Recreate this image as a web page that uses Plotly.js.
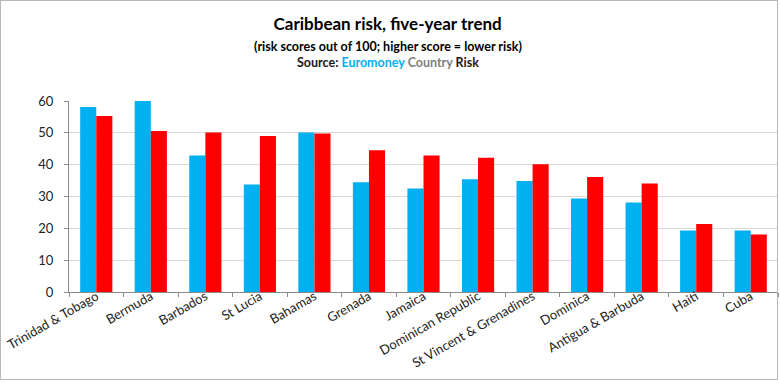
<!DOCTYPE html>
<html>
<head>
<meta charset="utf-8">
<script src="https://cdn.plot.ly/plotly-3.0.1.min.js"></script>
<style>
  html, body { margin: 0; padding: 0; background: #fff; }
  #wrap { position: relative; width: 780px; height: 383px; }
  #chart { width: 780px; height: 383px; }
  #frame { position: absolute; left: 0; top: 0; width: 776px; height: 378px; border: 1.5px solid #b8b8b8; pointer-events: none; }
</style>
</head>
<body>
<div id="wrap"><div id="chart"></div><div id="frame"></div></div>
<script>
const countries = ["Trinidad & Tobago", "Bermuda", "Barbados", "St Lucia", "Bahamas", "Grenada", "Jamaica",
  "Dominican Republic", "St Vincent & Grenadines", "Dominica", "Antigua & Barbuda", "Haiti", "Cuba"];
const scoresEarlier = [58.1, 60.0, 42.9, 33.8, 50.1, 34.5, 32.5, 35.4, 34.9, 29.4, 28.1, 19.3, 19.3];
const scoresLatest  = [55.3, 50.6, 50.1, 49.0, 49.8, 44.5, 42.9, 42.2, 40.1, 36.1, 34.1, 21.4, 18.1];
const yTicks = [0, 10, 20, 30, 40, 50, 60];

const FONT = "Lato, 'Liberation Sans', sans-serif";

const traces = [
  { type: "bar", x: countries, y: scoresEarlier, name: "Earlier", marker: { color: "#00b0f0" }, hoverinfo: "x+y" },
  { type: "bar", x: countries, y: scoresLatest, name: "Latest", marker: { color: "#ff0000" }, hoverinfo: "x+y" }
];

const layout = {
  width: 780, height: 383,
  margin: { l: 69, r: 2, t: 101, b: 91, pad: 0 },
  paper_bgcolor: "#ffffff", plot_bgcolor: "#ffffff",
  showlegend: false,
  barmode: "group", bargap: 0.41, bargroupgap: 0,
  font: { family: FONT, color: "#222222" },
  title: {
    text: "<b>Caribbean risk, five-year trend</b>",
    font: { family: FONT, size: 17, color: "#000000" },
    x: 0.497, xanchor: "center", y: 0.938, yanchor: "middle", yref: "container"
  },
  xaxis: {
    type: "category",
    tickangle: -30,
    tickfont: { family: FONT, size: 13, color: "#222222" },
    showline: true, linecolor: "#8c8c8c", linewidth: 1,
    ticks: "outside", ticklen: 4, tickcolor: "#8c8c8c", tickson: "boundaries",
    ticklabelstandoff: -9,
    showgrid: false, zeroline: false,
    fixedrange: true
  },
  yaxis: {
    range: [0, 60],
    tickvals: yTicks,
    ticktext: yTicks.map(String),
    tickfont: { family: FONT, size: 13, color: "#222222" },
    showline: true, linecolor: "#8c8c8c", linewidth: 1,
    ticks: "outside", ticklen: 4, tickcolor: "#8c8c8c",
    ticklabelstandoff: 8,
    showgrid: true, gridcolor: "#d9d9d9", gridwidth: 1,
    zeroline: false,
    fixedrange: true
  },
  annotations: [
    {
      text: "<b>(risk scores out of 100; higher score = lower risk)</b>",
      xref: "paper", yref: "paper", x: 0.45, y: 1.283, xanchor: "center", yanchor: "middle",
      showarrow: false, font: { family: FONT, size: 12.5, color: "#000000" }
    },
    {
      text: "<b>Source: <span style='color:#00b0f0'>Euromoney</span> <span style='color:#7f7f7f'>Country</span> Risk</b>",
      xref: "paper", yref: "paper", x: 0.45, y: 1.199, xanchor: "center", yanchor: "middle",
      showarrow: false, font: { family: FONT, size: 12.5, color: "#1a1a1a" }
    }
  ]
};

Plotly.newPlot("chart", traces, layout, { displayModeBar: false, staticPlot: true });
</script>
</body>
</html>
